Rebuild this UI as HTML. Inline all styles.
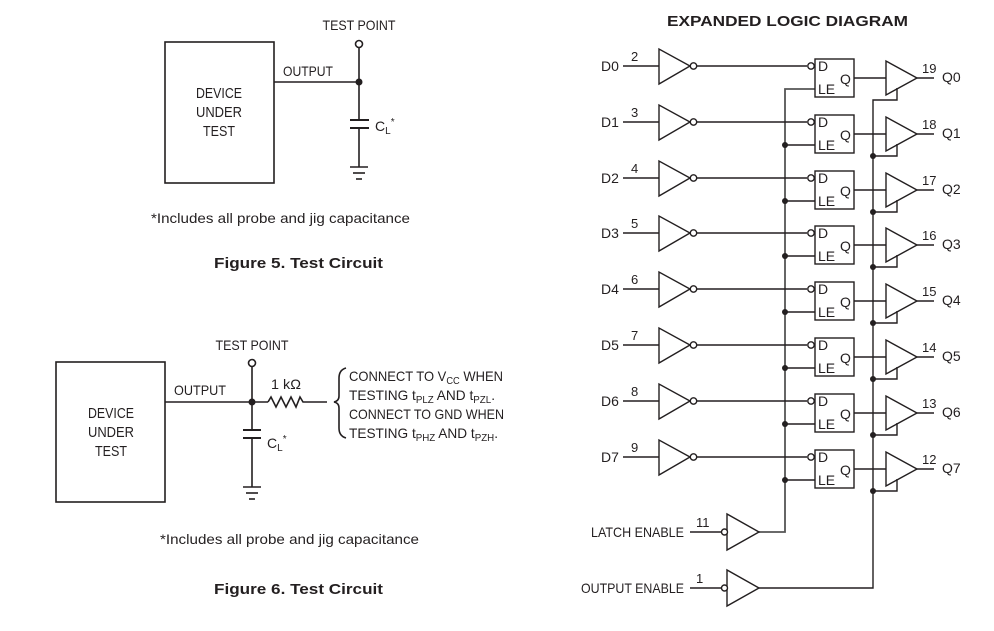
<!DOCTYPE html>
<html><head><meta charset="utf-8"><style>
html,body{margin:0;padding:0;background:#fff;}
svg{display:block;}
text{font-family:"Liberation Sans",sans-serif;fill:#231f20;}
.n{font-size:14px;}
.s{font-size:13px;}
</style></head><body>
<svg width="994" height="631" viewBox="0 0 994 631" xmlns="http://www.w3.org/2000/svg">
<defs>
<g id="row" stroke="#231f20" stroke-width="1.4" fill="none">
<line x1="623" y1="0" x2="659" y2="0"/>
<polygon points="659,-17 659,18 690,0"/>
<circle cx="693.5" cy="0" r="3.2" fill="#fff"/>
<line x1="697" y1="0" x2="807" y2="0"/>
<circle cx="811" cy="0" r="3.2" fill="#fff"/>
<rect x="815" y="-7" width="39" height="38"/>
<line x1="854" y1="12" x2="886" y2="12"/>
<polygon points="886,-5 886,29 917,12"/>
<line x1="917" y1="12" x2="934" y2="12"/>
</g>
<g id="ext">
<g stroke="#231f20" stroke-width="1.4" fill="none">
<line x1="785" y1="23" x2="815" y2="23"/>
<polyline points="897,22 897,34 873,34"/>
</g>
<circle cx="785" cy="23" r="3" fill="#231f20"/>
<circle cx="873" cy="34" r="3" fill="#231f20"/>
</g>
</defs>
<g stroke="#231f20" stroke-width="1.6" fill="none">
<rect x="165" y="42" width="109" height="141"/>
<line x1="274" y1="82" x2="359" y2="82"/>
<line x1="359" y1="48" x2="359" y2="120"/>
<circle cx="359" cy="44" r="3.5" fill="#fff"/>
<line x1="350" y1="120" x2="369" y2="120" stroke-width="2"/>
<line x1="350" y1="128" x2="369" y2="128" stroke-width="2"/>
<line x1="359" y1="128" x2="359" y2="167"/>
<line x1="350" y1="167" x2="368" y2="167"/>
<line x1="353" y1="173" x2="365" y2="173"/>
<line x1="356" y1="179" x2="362" y2="179"/>
<rect x="56" y="362" width="109" height="140"/>
<line x1="165" y1="402" x2="268" y2="402"/>
<polyline points="268,402 271,397 276,407 281,397 286,407 291,397 296,407 300,397 303,402 327,402"/>
<line x1="252" y1="367" x2="252" y2="430"/>
<circle cx="252" cy="363" r="3.5" fill="#fff"/>
<line x1="243" y1="430" x2="261" y2="430" stroke-width="2"/>
<line x1="243" y1="438" x2="261" y2="438" stroke-width="2"/>
<line x1="252" y1="438" x2="252" y2="487"/>
<line x1="243" y1="487" x2="261" y2="487"/>
<line x1="246" y1="493" x2="258" y2="493"/>
<line x1="249" y1="499" x2="255" y2="499"/>
<path d="M346,368 Q339,370 339,378 L339,396 Q339,401 334,402 Q339,403 339,408 L339,428 Q339,436 346,438"/>
</g>
<circle cx="359" cy="82" r="3.5" fill="#231f20"/>
<circle cx="252" cy="402" r="3.5" fill="#231f20"/>
<g class="n">
<text x="359" y="30" text-anchor="middle" textLength="73" lengthAdjust="spacingAndGlyphs">TEST POINT</text>
<text x="283" y="76" textLength="50" lengthAdjust="spacingAndGlyphs">OUTPUT</text>
<text x="219" y="98" text-anchor="middle" font-size="15" textLength="46" lengthAdjust="spacingAndGlyphs">DEVICE</text>
<text x="219" y="117" text-anchor="middle" font-size="15" textLength="46" lengthAdjust="spacingAndGlyphs">UNDER</text>
<text x="219" y="136" text-anchor="middle" font-size="15" textLength="32" lengthAdjust="spacingAndGlyphs">TEST</text>
<text x="375" y="131">C<tspan font-size="10" dy="3">L</tspan><tspan font-size="10" dy="-9">*</tspan></text>
<text x="252" y="350" text-anchor="middle" textLength="73" lengthAdjust="spacingAndGlyphs">TEST POINT</text>
<text x="174" y="395" textLength="52" lengthAdjust="spacingAndGlyphs">OUTPUT</text>
<text x="271" y="389" textLength="30" lengthAdjust="spacingAndGlyphs">1 kΩ</text>
<text x="111" y="418" text-anchor="middle" font-size="15" textLength="46" lengthAdjust="spacingAndGlyphs">DEVICE</text>
<text x="111" y="437" text-anchor="middle" font-size="15" textLength="46" lengthAdjust="spacingAndGlyphs">UNDER</text>
<text x="111" y="456" text-anchor="middle" font-size="15" textLength="32" lengthAdjust="spacingAndGlyphs">TEST</text>
<text x="267" y="448">C<tspan font-size="10" dy="3">L</tspan><tspan font-size="10" dy="-9">*</tspan></text>
<text x="349" y="381" textLength="154" lengthAdjust="spacingAndGlyphs">CONNECT TO V<tspan font-size="10" dy="3">CC</tspan><tspan dy="-3"> WHEN</tspan></text>
<text x="349" y="400" textLength="146" lengthAdjust="spacingAndGlyphs">TESTING t<tspan font-size="10" dy="3">PLZ</tspan><tspan dy="-3"> AND t</tspan><tspan font-size="10" dy="3">PZL</tspan><tspan dy="-3">.</tspan></text>
<text x="349" y="419" textLength="155" lengthAdjust="spacingAndGlyphs">CONNECT TO GND WHEN</text>
<text x="349" y="438" textLength="149" lengthAdjust="spacingAndGlyphs">TESTING t<tspan font-size="10" dy="3">PHZ</tspan><tspan dy="-3"> AND t</tspan><tspan font-size="10" dy="3">PZH</tspan><tspan dy="-3">.</tspan></text>
</g>
<text x="151" y="223" font-size="14" textLength="259" lengthAdjust="spacingAndGlyphs">*Includes all probe and jig capacitance</text>
<text x="214" y="268" font-size="15" font-weight="bold" textLength="169" lengthAdjust="spacingAndGlyphs">Figure 5. Test Circuit</text>
<text x="160" y="544" font-size="14" textLength="259" lengthAdjust="spacingAndGlyphs">*Includes all probe and jig capacitance</text>
<text x="214" y="594" font-size="15" font-weight="bold" textLength="169" lengthAdjust="spacingAndGlyphs">Figure 6. Test Circuit</text>
<text x="667" y="26" font-size="15" font-weight="bold" textLength="241" lengthAdjust="spacingAndGlyphs">EXPANDED LOGIC DIAGRAM</text>

<g stroke="#231f20" stroke-width="1.4" fill="none">
<polyline points="815,89 785,89 785,532 759,532" stroke="#555" stroke-width="1.8"/>
<polyline points="897,88 897,100 873,100 873,588 759,588"/>
</g>

<use href="#row" transform="translate(0,66)"/>
<use href="#row" transform="translate(0,122)"/><use href="#ext" transform="translate(0,122)"/>
<use href="#row" transform="translate(0,178)"/><use href="#ext" transform="translate(0,178)"/>
<use href="#row" transform="translate(0,233)"/><use href="#ext" transform="translate(0,233)"/>
<use href="#row" transform="translate(0,289)"/><use href="#ext" transform="translate(0,289)"/>
<use href="#row" transform="translate(0,345)"/><use href="#ext" transform="translate(0,345)"/>
<use href="#row" transform="translate(0,401)"/><use href="#ext" transform="translate(0,401)"/>
<use href="#row" transform="translate(0,457)"/><use href="#ext" transform="translate(0,457)"/>

<g class="n">
<text x="601" y="71">D0</text><text x="631" y="61" class="s">2</text><text x="818" y="71">D</text><text x="818" y="94">LE</text><text x="840" y="84">Q</text><text x="922" y="73" class="s">19</text><text x="942" y="82">Q0</text>
<text x="601" y="127">D1</text><text x="631" y="117" class="s">3</text><text x="818" y="127">D</text><text x="818" y="150">LE</text><text x="840" y="140">Q</text><text x="922" y="129" class="s">18</text><text x="942" y="138">Q1</text>
<text x="601" y="183">D2</text><text x="631" y="173" class="s">4</text><text x="818" y="183">D</text><text x="818" y="206">LE</text><text x="840" y="196">Q</text><text x="922" y="185" class="s">17</text><text x="942" y="194">Q2</text>
<text x="601" y="238">D3</text><text x="631" y="228" class="s">5</text><text x="818" y="238">D</text><text x="818" y="261">LE</text><text x="840" y="251">Q</text><text x="922" y="240" class="s">16</text><text x="942" y="249">Q3</text>
<text x="601" y="294">D4</text><text x="631" y="284" class="s">6</text><text x="818" y="294">D</text><text x="818" y="317">LE</text><text x="840" y="307">Q</text><text x="922" y="296" class="s">15</text><text x="942" y="305">Q4</text>
<text x="601" y="350">D5</text><text x="631" y="340" class="s">7</text><text x="818" y="350">D</text><text x="818" y="373">LE</text><text x="840" y="363">Q</text><text x="922" y="352" class="s">14</text><text x="942" y="361">Q5</text>
<text x="601" y="406">D6</text><text x="631" y="396" class="s">8</text><text x="818" y="406">D</text><text x="818" y="429">LE</text><text x="840" y="419">Q</text><text x="922" y="408" class="s">13</text><text x="942" y="417">Q6</text>
<text x="601" y="462">D7</text><text x="631" y="452" class="s">9</text><text x="818" y="462">D</text><text x="818" y="485">LE</text><text x="840" y="475">Q</text><text x="922" y="464" class="s">12</text><text x="942" y="473">Q7</text>
</g>

<g stroke="#231f20" stroke-width="1.4" fill="none">
<line x1="690" y1="532" x2="721" y2="532"/>
<polygon points="727,514 727,550 759,532"/>
<circle cx="724.5" cy="532" r="3" fill="#fff"/>
<line x1="690" y1="588" x2="721" y2="588"/>
<polygon points="727,570 727,606 759,588"/>
<circle cx="724.5" cy="588" r="3" fill="#fff"/>
</g>
<g class="n">
<text x="684" y="537" text-anchor="end" textLength="93" lengthAdjust="spacingAndGlyphs">LATCH ENABLE</text>
<text x="696" y="527" class="s">11</text>
<text x="684" y="593" text-anchor="end" textLength="103" lengthAdjust="spacingAndGlyphs">OUTPUT ENABLE</text>
<text x="696" y="583" class="s">1</text>
</g>
</svg>
</body></html>
